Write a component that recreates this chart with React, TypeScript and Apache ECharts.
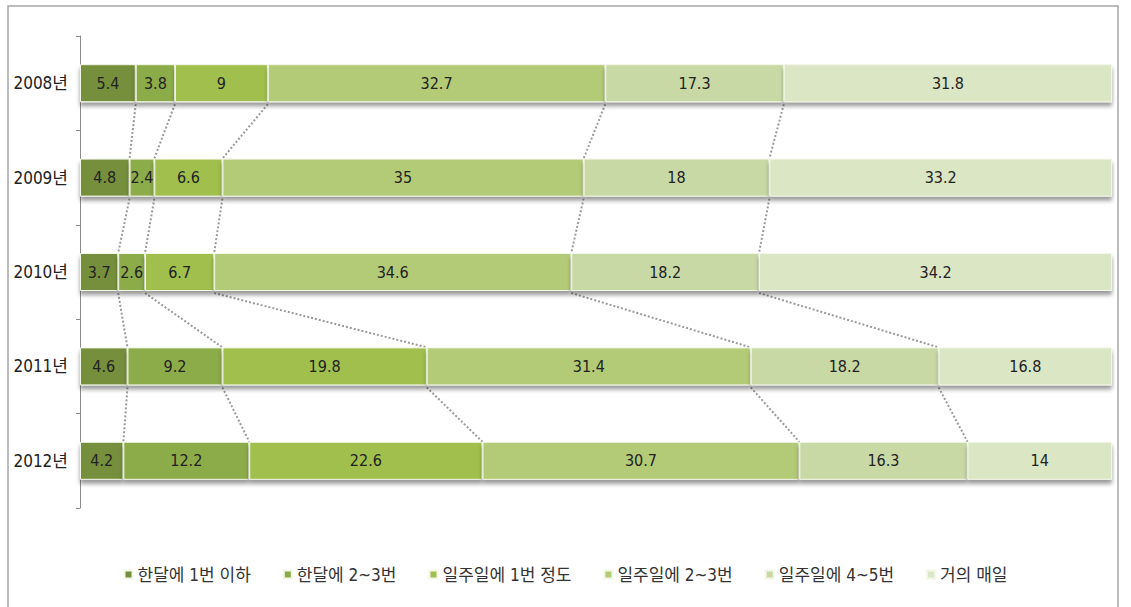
import React, { useEffect, useRef } from "react";
import * as echarts from "echarts";

const categories = ["2008년", "2009년", "2010년", "2011년", "2012년"];
const seriesNames = ["한달에 1번 이하", "한달에 2~3번", "일주일에 1번 정도", "일주일에 2~3번", "일주일에 4~5번", "거의 매일"];
const s1 = [5.4, 4.8, 3.7, 4.6, 4.2];
const s2 = [3.8, 2.4, 2.6, 9.2, 12.2];
const s3 = [9, 6.6, 6.7, 19.8, 22.6];
const s4 = [32.7, 35, 34.6, 31.4, 30.7];
const s5 = [17.3, 18, 18.2, 18.2, 16.3];
const s6 = [31.8, 33.2, 34.2, 16.8, 14];
const seriesValues = [s1, s2, s3, s4, s5, s6];
const colors = ["#768f3e", "#8cab48", "#a0bf4e", "#b3cb76", "#c9d9a6", "#dbe6c5"];

const FONT = "'Liberation Sans Narrow', 'DejaVu Sans Condensed', 'Noto Sans CJK KR', sans-serif";
const BAR_W = 38;

export default function App() {
  const ref = useRef<HTMLDivElement>(null);
  useEffect(() => {
    const chart = echarts.init(ref.current!, null, { renderer: "svg" });

    const connectors: number[][] = [];
    for (let i = 0; i < categories.length - 1; i++) {
      let cumA = 0;
      let cumB = 0;
      for (let k = 0; k < seriesValues.length - 1; k++) {
        cumA += seriesValues[k][i];
        cumB += seriesValues[k][i + 1];
        connectors.push([cumA, i, cumB]);
      }
    }

    const barSeries = seriesNames.map((name, k) => ({
      name,
      type: "bar",
      stack: "total",
      barWidth: BAR_W,
      data: seriesValues[k],
      itemStyle: {
        color: colors[k],
        borderColor: "#f3f7e6",
        borderWidth: 1,
        shadowColor: "rgba(0,0,0,0.4)",
        shadowBlur: 4,
        shadowOffsetY: 4,
      },
      label: {
        show: true,
        position: "inside",
        color: "#222",
        fontSize: 16,
        fontFamily: FONT,
      },
      z: 3,
    }));

    chart.setOption({
      animation: false,
      backgroundColor: "#ffffff",
      grid: { left: 80, right: 19, top: 36, bottom: 99 },
      xAxis: { type: "value", min: 0, max: 100, show: false },
      yAxis: {
        type: "category",
        data: categories,
        inverse: true,
        axisLine: { show: true, lineStyle: { color: "#8a8a8a", width: 1 } },
        axisTick: { show: true, inside: false, length: 4, lineStyle: { color: "#8a8a8a" } },
        axisLabel: { color: "#222", fontSize: 17, fontFamily: FONT, margin: 12 },
      },
      legend: {
        data: seriesNames,
        top: 561,
        left: "center",
        icon: "rect",
        itemWidth: 8,
        itemHeight: 8,
        itemGap: 32,
        textStyle: { color: "#333", fontSize: 17, fontFamily: FONT },
      },
      graphic: [
        {
          type: "rect",
          shape: { x: 8, y: 6, width: 1110, height: 620 },
          style: { fill: "none", stroke: "#a6a6a6", lineWidth: 1.5 },
          silent: true,
        },
      ],
      series: [
        ...barSeries,
        {
          type: "custom",
          name: "connectors",
          data: connectors,
          z: 1,
          silent: true,
          renderItem: (params: any, api: any) => {
            const xa = api.value(0);
            const i = api.value(1);
            const xb = api.value(2);
            const p1 = api.coord([xa, i]);
            const p2 = api.coord([xb, i + 1]);
            return {
              type: "line",
              shape: { x1: p1[0], y1: p1[1] + BAR_W / 2 + 2, x2: p2[0], y2: p2[1] - BAR_W / 2 },
              style: { stroke: "#9a9a9a", lineWidth: 2, lineDash: [2, 2] },
            };
          },
        },
      ],
    });
    return () => chart.dispose();
  }, []);
  return <div ref={ref} style={{ position: "absolute", left: 0, top: 0, width: 1131, height: 607 }} />;
}
